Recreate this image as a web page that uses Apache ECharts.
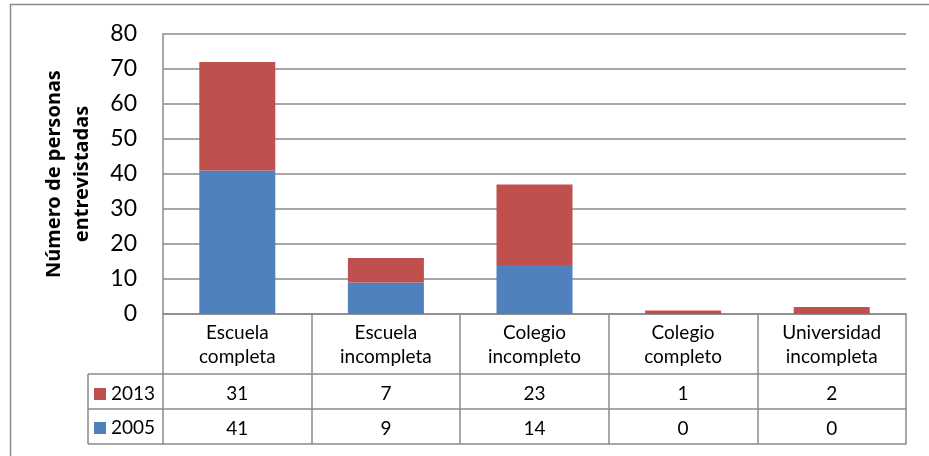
<!DOCTYPE html>
<html>
<head>
<meta charset="utf-8">
<script src="https://cdn.jsdelivr.net/npm/echarts@6/dist/echarts.min.js"></script>
<style>
  html, body { margin: 0; padding: 0; background: #fff; }
  #chart { width: 929px; height: 456px; }
</style>
</head>
<body>
<div id="chart"></div>
<script>
// datos
var categorias = ['Escuela\ncompleta', 'Escuela\nincompleta', 'Colegio\nincompleto', 'Colegio\ncompleto', 'Universidad\nincompleta'];
var valores2005 = [41, 9, 14, 0, 0];
var valores2013 = [31, 7, 23, 1, 2];
var ticksY = [0, 10, 20, 30, 40, 50, 60, 70, 80];

// layout
var gLeft = 163, gRight = 906, gTop = 34, gBottom = 314;
var filaCab = 60, filaDato = 35, colLeyenda = 88;
var gris = '#8a8a8a';
var fuente = 'Lato';

var myChart = echarts.init(document.getElementById('chart'));

function ejeTabla (offset, tickLen, labels, margin) {
  return {
    type: 'category',
    position: 'bottom',
    data: categorias,
    offset: offset,
    boundaryGap: true,
    axisLine: { show: true, lineStyle: { color: gris, width: 1.5 } },
    axisTick: { show: tickLen > 0, length: tickLen, inside: false, alignWithLabel: false, lineStyle: { color: gris, width: 1.5 } },
    axisLabel: {
      show: !!labels,
      interval: 0,
      margin: margin,
      color: '#000',
      fontFamily: fuente,
      fontSize: 19,
      lineHeight: 24,
      formatter: function (v, i) { return labels ? String(labels[i]) : ''; }
    },
    splitLine: { show: false }
  };
}

var yT1 = gBottom + filaCab, yT2 = yT1 + filaDato, yT3 = yT2 + filaDato;

var option = {
  animation: false,
  grid: { left: gLeft, right: 929 - gRight, top: gTop, bottom: 456 - gBottom, containLabel: false },
  legend: {
    orient: 'vertical',
    left: 89,
    top: yT1 + 5,
    itemWidth: 12,
    itemHeight: 12,
    itemGap: 14,
    icon: 'rect',
    data: ['2013', '2005'],
    textStyle: { color: '#000', fontFamily: fuente, fontSize: 19, lineHeight: 20, padding: [0, 0, 0, 0] }
  },
  xAxis: [
    ejeTabla(0, filaCab, categorias, 7),
    ejeTabla(filaCab, filaDato, valores2013, 8),
    ejeTabla(filaCab + filaDato, filaDato, valores2005, 8),
    ejeTabla(filaCab + 2 * filaDato, 0, null, 0)
  ],
  yAxis: {
    type: 'value',
    min: 0,
    max: 80,
    interval: 10,
    name: 'Número de personas\nentrevistadas',
    nameLocation: 'middle',
    nameRotate: 90,
    nameGap: 95,
    nameTextStyle: { color: '#000', fontFamily: 'Noto Sans', fontSize: 20, fontWeight: 'bold', lineHeight: 28, verticalAlign: 'middle' },
    axisLine: { show: true, lineStyle: { color: gris, width: 1.5 } },
    axisTick: { show: false },
    axisLabel: {
      color: '#000', fontFamily: fuente, fontSize: 23, margin: 26,
      formatter: function (v) { return ticksY.indexOf(v) >= 0 ? String(v) : ''; }
    },
    splitLine: { show: true, lineStyle: { color: gris, width: 1.5 } }
  },
  series: [
    {
      name: '2005',
      type: 'bar',
      stack: 'total',
      xAxisIndex: 0,
      barWidth: 76,
      data: valores2005,
      itemStyle: { color: '#4F81BD' }
    },
    {
      name: '2013',
      type: 'bar',
      stack: 'total',
      xAxisIndex: 0,
      barWidth: 76,
      data: valores2013,
      itemStyle: { color: '#C0504D' }
    }
  ],
  graphic: [
    // marco exterior
    { type: 'rect', shape: { x: 10.5, y: 4.5, width: 1000, height: 1000 }, style: { fill: null, stroke: gris, lineWidth: 1.5 }, silent: true },
    // celdas de la leyenda
    { type: 'line', shape: { x1: colLeyenda, y1: yT1, x2: gLeft, y2: yT1 }, style: { stroke: gris, lineWidth: 1.5 } },
    { type: 'line', shape: { x1: colLeyenda, y1: yT2, x2: gLeft, y2: yT2 }, style: { stroke: gris, lineWidth: 1.5 } },
    { type: 'line', shape: { x1: colLeyenda, y1: yT3, x2: gLeft, y2: yT3 }, style: { stroke: gris, lineWidth: 1.5 } },
    { type: 'line', shape: { x1: colLeyenda, y1: yT1, x2: colLeyenda, y2: yT3 }, style: { stroke: gris, lineWidth: 1.5 } }
  ]
};

option && myChart.setOption(option);
</script>
</body>
</html>
